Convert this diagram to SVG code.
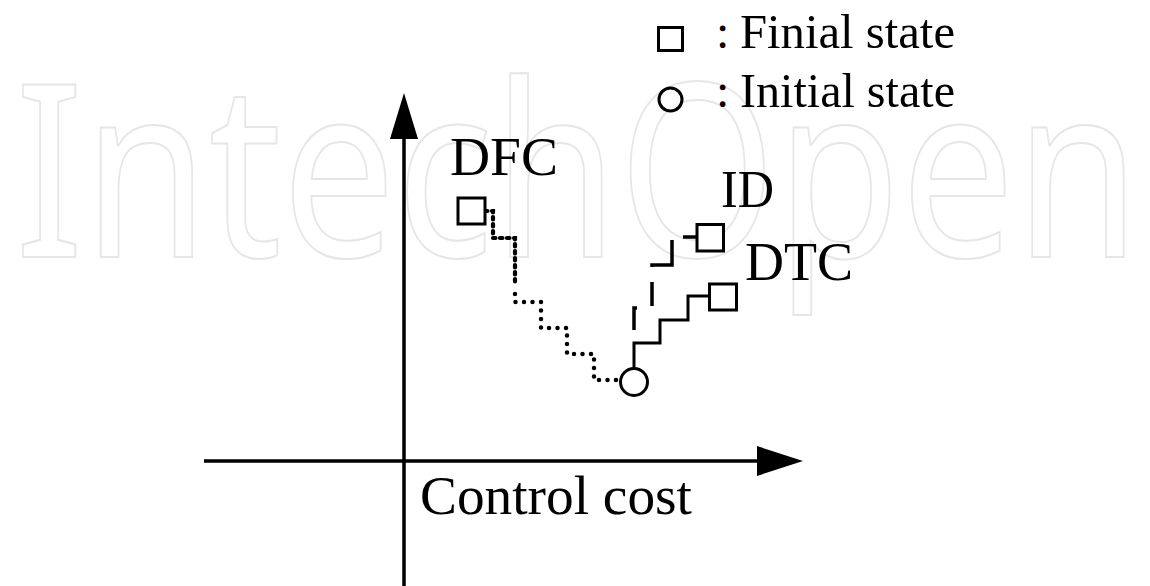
<svg xmlns="http://www.w3.org/2000/svg" width="1150" height="586" viewBox="0 0 1150 586">
<style>
.wm{font-family:"Noto Sans","Open Sans",sans-serif;font-size:242px;fill:none;stroke:#e6e6e6;stroke-width:2}
.t{font-family:"Liberation Serif","Times New Roman",serif;fill:#000}
.ax{stroke:#000;stroke-width:3.5;fill:none}
.node{fill:#fff;stroke:#000;stroke-width:3}
.solid{fill:none;stroke:#000;stroke-width:3;stroke-linejoin:miter}
.dash{fill:none;stroke:#000;stroke-width:3.5;stroke-dasharray:0 38 25 17 24 15 47 14 20}
.dense{fill:none;stroke:#000;stroke-width:4.2;stroke-linecap:round;stroke-dasharray:2.5 4.5}
.dots{fill:none;stroke:#000;stroke-width:4.5;stroke-linecap:round;stroke-dasharray:0 8.5}
</style>
<rect width="1150" height="586" fill="#fff"/>
<text class="wm" x="15" y="257" textLength="1125" lengthAdjust="spacingAndGlyphs">IntechOpen</text>

<g id="axes">
<line class="ax" x1="404" y1="586" x2="404" y2="130"/>
<polygon points="404,93 390,139 418,139" fill="#000"/>
<line class="ax" x1="204" y1="461" x2="765" y2="461"/>
<polygon points="803,461 757,446 757,476" fill="#000"/>
<text class="t" x="420" y="514" font-size="55" textLength="272" lengthAdjust="spacingAndGlyphs">Control cost</text>
</g>

<g id="connectors">
<path class="dense" d="M485,211 H493 V238 H515 V285"/>
<path class="dots" d="M515,294 V302 H541 V328 H567 V354 H594 V380 H620"/>
<path class="solid" d="M634,368 V343 H660 V320 H688 V296 H709"/>
<path class="dash" d="M634,368 V308 H652 V265 H672 V237 H697"/>
</g>

<g id="initial">
<circle class="node" cx="634" cy="382" r="13.5"/>
</g>
<g id="dfc">
<rect class="node" x="458" y="198" width="27" height="26"/>
<text class="t" x="450" y="175" font-size="54" textLength="108" lengthAdjust="spacingAndGlyphs">DFC</text>
</g>
<g id="id">
<rect class="node" x="697" y="224.5" width="26.5" height="26.5"/>
<text class="t" x="721" y="207" font-size="52" textLength="53" lengthAdjust="spacingAndGlyphs">ID</text>
</g>
<g id="dtc">
<rect class="node" x="709.5" y="284" width="27" height="26"/>
<text class="t" x="745" y="280" font-size="54" textLength="108" lengthAdjust="spacingAndGlyphs">DTC</text>
</g>

<g id="legend">
<rect class="node" x="658.5" y="27.5" width="24" height="23"/>
<text class="t" x="716" y="48" font-size="48">:</text>
<text class="t" x="740" y="48" font-size="48" textLength="215" lengthAdjust="spacingAndGlyphs">Finial state</text>
<circle class="node" cx="670.5" cy="99.5" r="11.5"/>
<text class="t" x="716" y="107" font-size="48">:</text>
<text class="t" x="740" y="107" font-size="48" textLength="215" lengthAdjust="spacingAndGlyphs">Initial state</text>
</g>
</svg>
